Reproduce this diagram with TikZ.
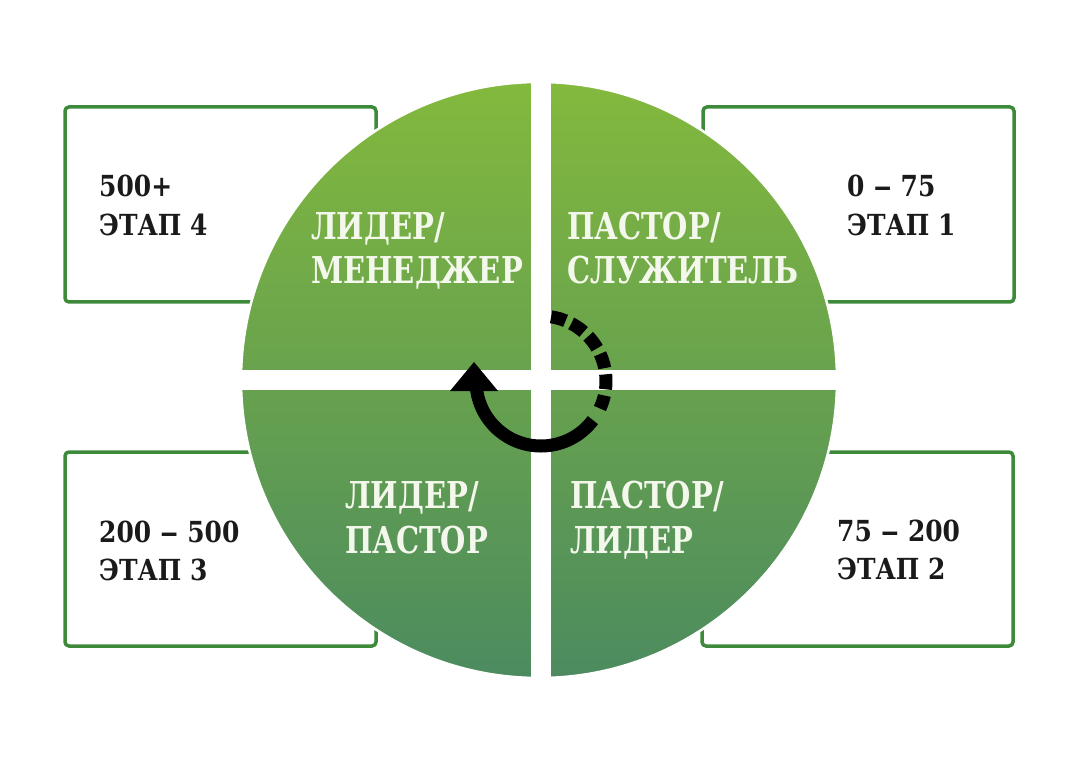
\documentclass[tikz,border=0pt]{standalone}
\usepackage{graphicx}
\usepackage{fontspec}
\newfontfamily\circfont[FakeStretch=0.785]{DejaVu Serif}
\newfontfamily\boxfont[FakeStretch=0.86]{DejaVu Serif}
\definecolor{gtop}{HTML}{83B93D}
\definecolor{gmid}{HTML}{66A751}
\definecolor{gbot}{HTML}{4C8B5F}
\definecolor{boxline}{HTML}{3E8A3B}
\definecolor{ctext}{HTML}{F4F8EC}
\definecolor{btext}{HTML}{1A1A1A}
\newcommand{\dsh}{\hspace{0.3em}\scalebox{1.5}[1]{–}\hspace{0.3em}}
\tikzset{
  stagebox/.style={draw=boxline, line width=3.5pt, rounded corners=4pt, fill=white},
  boxtxt/.style={anchor=base west, inner sep=0pt, text=btext, font=\boxfont\bfseries\fontsize{29}{34}\selectfont},
  circtxt/.style={anchor=base west, inner sep=0pt, text=ctext, font=\circfont\bfseries\fontsize{37}{44}\selectfont},
  cyc/.style={line width=13pt, black}
}
\begin{document}
\begin{tikzpicture}[x=1pt,y=-1pt]
\useasboundingbox (0,0) rectangle (1082,759);
\fill[white] (0,0) rectangle (1082,759);
% stage boxes
\draw[stagebox] (65,107) rectangle (376,302);
\draw[stagebox] (703,107) rectangle (1014,302);
\draw[stagebox] (65,452) rectangle (376,646);
\draw[stagebox] (702,452) rectangle (1013,646);
% circle
\shade[top color=gtop, middle color=gmid, bottom color=gbot] (539,380) circle[radius=298];
\draw[white, line width=2.5pt] (539,380) circle[radius=298];
\fill[white] (531,75) rectangle (551,685);
\fill[white] (232,370) rectangle (846,390);
% box texts
\node[boxtxt] (t4a) at (99,197) {500+};
\node[boxtxt] (t4b) at (99,236) {ЭТАП 4};
\node[boxtxt] (t1a) at (847,197) {0\dsh 75};
\node[boxtxt] (t1b) at (847,236) {ЭТАП 1};
\node[boxtxt] (t3a) at (99,542) {200\dsh 500};
\node[boxtxt] (t3b) at (99,580) {ЭТАП 3};
\node[boxtxt] (t2a) at (837,541) {75\dsh 200};
\node[boxtxt] (t2b) at (837,579) {ЭТАП 2};
% circle texts
\node[circtxt] (q4a) at (311,240) {ЛИДЕР/};
\node[circtxt] (q4b) at (311,284) {МЕНЕДЖЕР};
\node[circtxt] (q1a) at (567,240) {ПАСТОР/};
\node[circtxt] (q1b) at (567,284) {СЛУЖИТЕЛЬ};
\node[circtxt] (q3a) at (345,508) {ЛИДЕР/};
\node[circtxt] (q3b) at (345,553) {ПАСТОР};
\node[circtxt] (q2a) at (570,508) {ПАСТОР/};
\node[circtxt] (q2b) at (570,553) {ЛИДЕР};
% cycle arrow
\coordinate (cc) at (541,381);
\draw[cyc] ([shift={(37:65)}]cc) arc[start angle=37, end angle=172, radius=65];
\fill[black] (450,391) -- (498,391) -- (474,362) -- cycle;
\draw[cyc, dash pattern=on 15pt off 6.3pt] ([shift={(-81:65)}]cc) arc[start angle=-81, end angle=25, radius=65];
\end{tikzpicture}
\end{document}
